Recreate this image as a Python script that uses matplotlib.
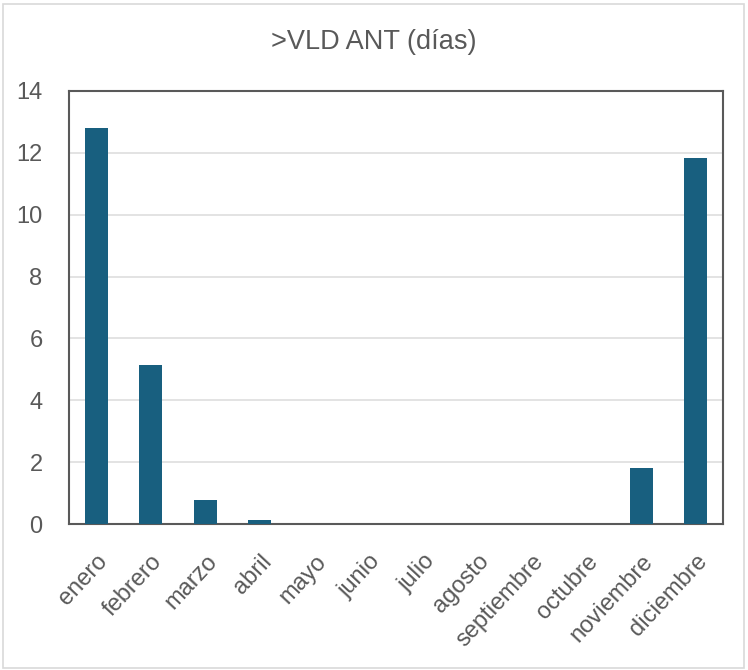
import matplotlib
matplotlib.use("Agg")
import matplotlib.pyplot as plt
from matplotlib.patches import Rectangle

months = ["enero", "febrero", "marzo", "abril", "mayo", "junio", "julio",
          "agosto", "septiembre", "octubre", "noviembre", "diciembre"]
days = [12.8, 5.15, 0.78, 0.13, 0, 0, 0, 0, 0, 0, 1.82, 11.83]
yticks = [0, 2, 4, 6, 8, 10, 12, 14]

BAR = "#185f7f"
GREY = "#595959"

plt.rcParams["font.family"] = ["Liberation Sans", "DejaVu Sans"]

fig = plt.figure(figsize=(7.48, 6.70), dpi=100)
ax = fig.add_axes([0.0922, 0.2179, 0.8744, 0.6463])

x = range(len(months))
ax.bar(x, days, width=0.42, color=BAR, zorder=3)
ax.set_xlim(-0.5, len(months) - 0.5)
ax.set_ylim(0, 14)
ax.set_yticks(yticks)
ax.grid(axis="y", color="#dedede", lw=1.2, zorder=0)
ax.set_xticks(list(x))
ax.set_xticklabels(months, rotation=47, ha="right", rotation_mode="anchor",
                   fontsize=17, color=GREY)
ax.tick_params(axis="y", labelsize=17, labelcolor=GREY, length=0, pad=19)
ax.tick_params(axis="x", length=0, pad=19)
for s in ax.spines.values():
    s.set_color(GREY)
    s.set_linewidth(1.5)

fig.text(0.5, 0.937, ">VLD ANT (días)", ha="center", va="center",
         fontsize=19.5, color=GREY)
fig.patches.append(Rectangle((0.004, 0.003), 0.99, 0.991, transform=fig.transFigure,
                             fill=False, edgecolor="#d9d9d9", lw=1.2))
fig.savefig("out.png", dpi=100)
